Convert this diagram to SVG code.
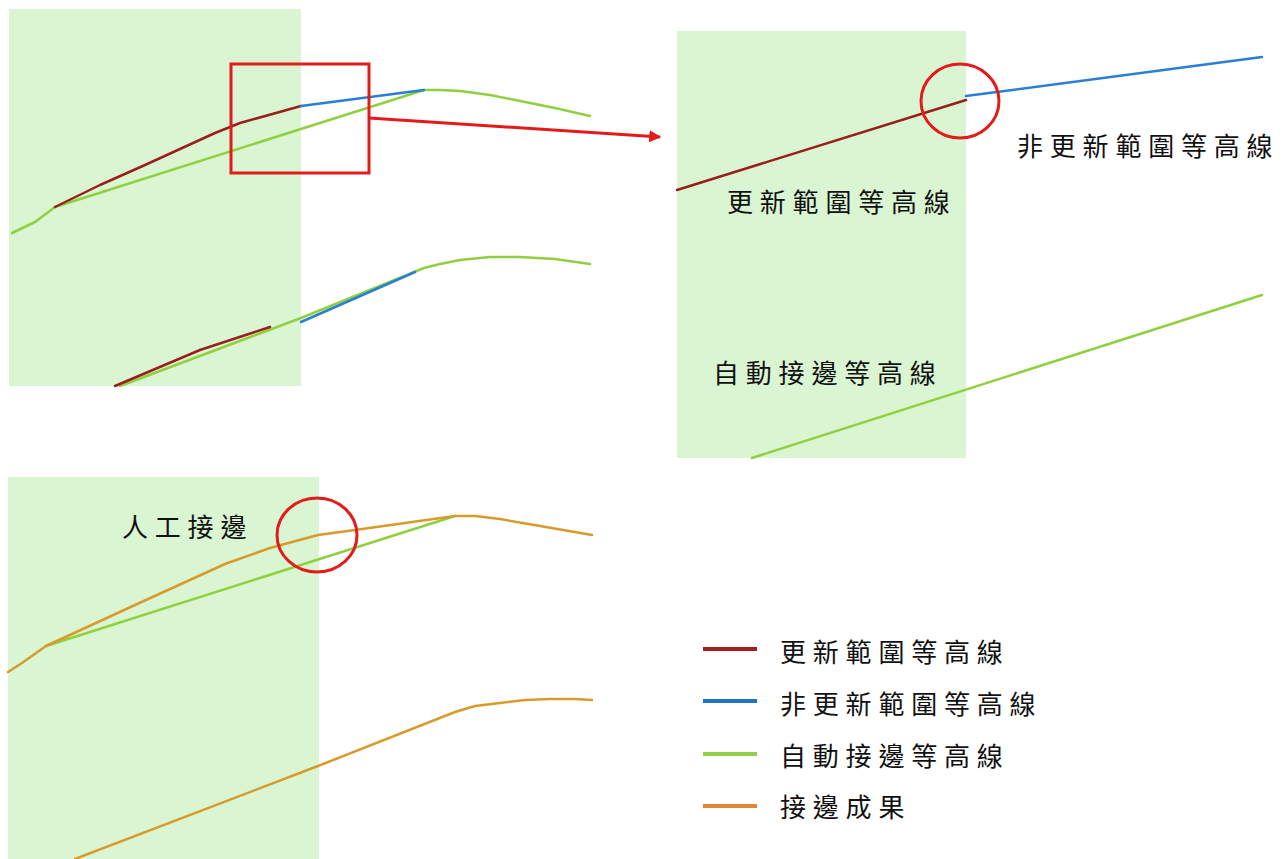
<svg xmlns="http://www.w3.org/2000/svg" width="1283" height="859" viewBox="0 0 1283 859">
<defs>
<style>
.bg{fill:#daf5d2}
.ln{fill:none;stroke-width:2.5;stroke-linejoin:round;stroke-linecap:round}
.upd{stroke:#9a1e1e}
.non{stroke:#2a7fd4}
.auto{stroke:#8fd03e}
.res{stroke:#d99a2c}
.hl{fill:none;stroke:#e31b1b;stroke-width:3}
.t{font-family:"Noto Sans CJK TC","Noto Sans CJK SC",sans-serif;font-size:26px;letter-spacing:6.8px;fill:#111}
.lg{stroke-width:4;fill:none}
</style>
<marker id="ah" viewBox="0 0 10 10" refX="9" refY="5" markerWidth="4" markerHeight="4" orient="auto" markerUnits="strokeWidth">
<path d="M0,0 L10,5 L0,10 z" fill="#e31b1b"/>
</marker>
</defs>

<g id="panel-original">
<rect class="bg" x="9" y="9" width="292" height="377"/>
<polyline class="ln auto" points="12,233 35,222 55,207 424,90 440,90 460,91 490,95 520,101 555,108 590,116"/>
<polyline class="ln upd" points="55,207 100,185 145,165 215,133 240,123 301,106"/>
<polyline class="ln non" points="301,106 424,90"/>
<polyline class="ln auto" points="120,386 301,318 424,268 440,264 460,260 490,257 520,257 555,259 590,264"/>
<polyline class="ln upd" points="115,386 200,350 270,327"/>
<polyline class="ln non" points="301,322 415,272"/>
<rect class="hl" x="231" y="64" width="138" height="109"/>
</g>

<g id="panel-zoom">
<rect class="bg" x="677" y="31" width="289" height="427"/>
<line class="ln upd" x1="677" y1="190" x2="966" y2="100"/>
<line class="ln non" x1="966" y1="96" x2="1262" y2="57"/>
<line class="ln auto" x1="752" y1="458" x2="1262" y2="295"/>
<ellipse class="hl" cx="960" cy="101" rx="39" ry="37"/>
<text class="t" x="1017" y="156">非更新範圍等高線</text>
<text class="t" x="727" y="212">更新範圍等高線</text>
<text class="t" x="713" y="383">自動接邊等高線</text>
</g>

<g id="panel-result">
<rect class="bg" x="8" y="477" width="311" height="382"/>
<polyline class="ln auto" points="46,646 455,516"/>
<polyline class="ln res" points="8,672 22,663 46,646 135,605 225,564 270,548 318,535 355,530 455,516 475,516 500,519 540,526 592,535"/>
<polyline class="ln res" points="75,859 318,766 455,712 475,706 500,703 525,700 550,699 575,699 592,700"/>
<ellipse class="hl" cx="317" cy="535" rx="40" ry="37"/>
<text class="t" x="122" y="537">人工接邊</text>
</g>

<g id="connectors">
<line x1="369" y1="118" x2="660" y2="137" stroke="#e31b1b" stroke-width="3" marker-end="url(#ah)"/>
</g>

<g id="legend">
<line class="lg" x1="703" y1="649" x2="757" y2="649" stroke="#a3201f"/>
<line class="lg" x1="703" y1="701" x2="757" y2="701" stroke="#1f72c4"/>
<line class="lg" x1="703" y1="754" x2="757" y2="754" stroke="#92cf4e"/>
<line class="lg" x1="703" y1="806" x2="757" y2="806" stroke="#e0843a"/>
<text class="t" x="780" y="662">更新範圍等高線</text>
<text class="t" x="780" y="714">非更新範圍等高線</text>
<text class="t" x="780" y="766">自動接邊等高線</text>
<text class="t" x="780" y="817">接邊成果</text>
</g>
</svg>
